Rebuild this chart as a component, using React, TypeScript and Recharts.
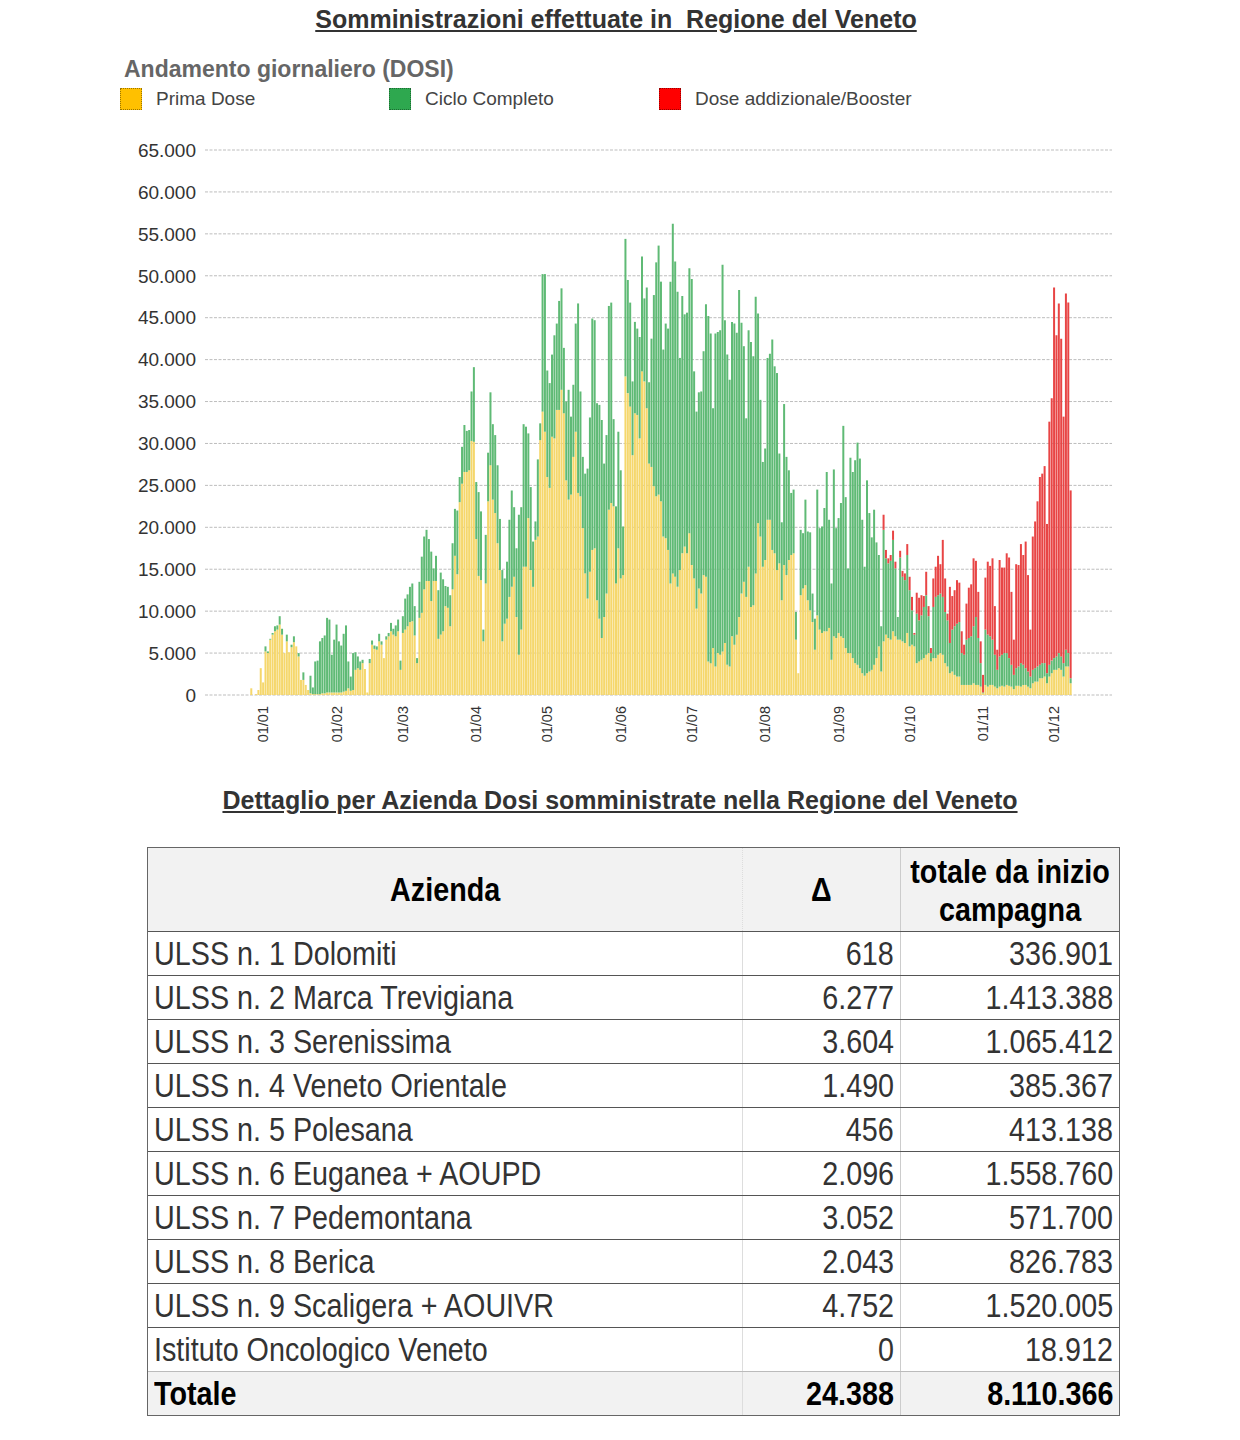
import React from "react";
import { BarChart, Bar, XAxis, YAxis, CartesianGrid } from "recharts";

// dosi giornaliere (dal 27/12/2020 all'08/12/2021)
const primaDic20 = [800, 0, 100, 600, 3200];
const cicloDic20 = [0, 0, 0, 0, 0];

const primaGen = [1500, 5200, 5000, 6600, 7200, 7600, 7800, 8400, 7200, 5000, 6400, 5100, 5700, 6300, 5800, 4600, 1800, 1800, 1200, 600, 200, 100, 100, 100, 100, 200, 200, 300, 300, 300, 300];
const cicloGen = [0, 600, 200, 100, 200, 600, 500, 1000, 700, 0, 800, 0, 300, 700, 0, 400, 0, 900, 0, 0, 2100, 800, 3900, 4000, 6300, 6600, 6900, 8900, 8700, 4500, 6300];

const primaFeb = [300, 300, 300, 400, 500, 800, 500, 600, 3000, 3200, 3000, 3800, 3100, 300, 3800, 6000, 5500, 5400, 6400, 6000, 4400, 6600, 7000, 7600, 7200, 7000, 7600, 3000];
const cicloFeb = [8100, 6100, 5600, 6900, 7800, 3200, 1700, 4400, 2100, 1400, 1000, 400, 0, 0, 500, 500, 400, 400, 900, 400, 0, 400, 400, 1000, 700, 1300, 1400, 1100];

const primaMar = [7400, 7800, 8200, 8700, 8800, 7100, 3800, 9200, 9800, 12600, 13600, 13600, 11200, 13600, 13600, 6700, 7200, 7600, 10600, 10400, 8200, 12600, 16600, 14400, 23000, 25200, 26600, 26600, 26800, 30300, 30200];
const cicloMar = [2000, 3700, 3800, 4200, 4500, 3500, 600, 4300, 6700, 6300, 6100, 5000, 5900, 1500, 3000, 5800, 7400, 6200, 2400, 2500, 3700, 5500, 5600, 7600, 3000, 4400, 5600, 4900, 4800, 5900, 8900];

const primaApr = [18600, 14200, 13700, 6400, 13300, 23100, 27400, 23300, 21700, 18100, 14900, 6400, 8500, 9100, 11700, 12900, 14100, 9300, 4800, 7800, 15300, 15300, 21100, 14900, 12900, 18500, 18900, 30400, 33800, 31400];
const cicloApr = [6800, 10000, 8200, 1400, 5800, 5800, 8700, 9000, 9300, 9300, 6100, 8500, 5400, 6800, 9200, 11500, 8300, 8200, 16700, 14600, 17000, 16700, 10100, 9900, 5400, 2200, 9200, 2000, 16400, 18800];

const primaMag = [26000, 24700, 30800, 30600, 34000, 34000, 36400, 33600, 25600, 23300, 23900, 28400, 31400, 24100, 23700, 19900, 14500, 11500, 14700, 17300, 17500, 11300, 9100, 6800, 9300, 12100, 22100, 22900, 22500, 13300, 17500];
const cicloMag = [12700, 12500, 9800, 12300, 10300, 13000, 12100, 7800, 9400, 13100, 9300, 8600, 12900, 22600, 12500, 8500, 11900, 15500, 18400, 27600, 27200, 23500, 25500, 26000, 18300, 18900, 24300, 23900, 10400, 9200, 13900];

const primaGiu = [13900, 14300, 38000, 36000, 34400, 28600, 33600, 33400, 30600, 38600, 37400, 34200, 27600, 27200, 24900, 23700, 23900, 23100, 18900, 18700, 17300, 13300, 14500, 14100, 12900, 14900, 16900, 17700, 16900, 19300];
const cicloGiu = [12900, 5800, 16400, 13500, 12400, 8800, 10900, 10300, 12100, 13700, 9900, 14400, 9700, 15300, 22800, 27900, 29700, 26200, 22300, 25600, 26400, 36000, 41700, 37600, 35200, 25300, 30700, 27700, 28700, 31600];

const primaLug = [15500, 13900, 10300, 12700, 12100, 14300, 14100, 4000, 3800, 5600, 3400, 5000, 4800, 5200, 6200, 3600, 3400, 7000, 6000, 7200, 9300, 12100, 13500, 11700, 15300, 10500, 10700, 14500, 20500, 18900, 15300];
const cicloLug = [34100, 24700, 23500, 23400, 24100, 26700, 32500, 41200, 39300, 28600, 39700, 38300, 38700, 46100, 38500, 37000, 34200, 37500, 38300, 36000, 39000, 32300, 28100, 21300, 28200, 31600, 29700, 33000, 25000, 16300, 12500];

const primaAgo = [16100, 20900, 20900, 17300, 16900, 14900, 15700, 11300, 15500, 14300, 16100, 16700, 16900, 6600, 2600, 11900, 12700, 13100, 11300, 10100, 8700, 5400, 9500, 7800, 7400, 7600, 7600, 8000, 4200, 7000, 6800];
const cicloAgo = [13300, 19300, 19800, 25100, 22300, 23500, 13100, 9300, 19200, 14100, 10700, 7400, 7600, 3300, 0, 7800, 6600, 10200, 8200, 9300, 3400, 3700, 15000, 12100, 12700, 14700, 19000, 12900, 9100, 19900, 13100];

const primaSet = [7400, 7000, 6800, 5600, 5000, 5000, 4400, 3800, 3600, 3200, 2600, 2300, 2600, 2800, 3000, 3600, 4400, 5800, 2800, 6400, 7200, 6800, 6600, 7600, 7000, 6600, 6600, 6400, 6200, 7400];
const cicloSet = [13700, 15900, 25300, 18000, 10100, 23300, 22200, 24200, 26500, 25000, 18300, 13000, 23000, 18900, 15800, 18500, 13800, 10900, 5400, 13300, 9100, 8900, 9400, 10900, 8100, 2700, 9800, 7700, 7500, 9300];

const primaOtt = [5800, 6000, 5800, 3800, 4000, 4200, 4400, 4800, 5000, 4000, 4400, 4400, 4800, 5000, 4800, 3800, 3400, 2600, 2800, 2400, 2200, 2200, 1200, 1200, 1200, 1200, 1200, 1400, 1200, 1200, 1000];
const cicloOtt = [6700, 4100, 1400, 5900, 4900, 5300, 6100, 7100, 4400, 1000, 6100, 7300, 7100, 7100, 6900, 6100, 5500, 3600, 5000, 5800, 6300, 6500, 3800, 3600, 5400, 5600, 5800, 6800, 8100, 5600, 2800];

const primaNov = [200, 1200, 1000, 1200, 1200, 1000, 800, 1000, 1100, 1000, 1200, 1100, 1000, 700, 1100, 1100, 1000, 1200, 1200, 1000, 800, 1400, 1600, 1600, 2000, 2000, 2200, 1400, 2200, 2600];
const cicloNov = [100, 6600, 6200, 5800, 5400, 3800, 2200, 3600, 3700, 4000, 3800, 3300, 2600, 1700, 2100, 2300, 2800, 2400, 2000, 1800, 1400, 1600, 1600, 1800, 1600, 1800, 1600, 1200, 1400, 1500];

const primaDic = [3000, 3000, 3200, 3000, 2200, 3400, 3400, 1400];
const cicloDic = [1400, 1600, 1800, 1600, 1600, 2000, 1600, 600];

// dose addizionale / booster, dal 20/09/2021
const boosterSet = [1800, 1000, 600, 700, 1100, 800, 0, 800, 700, 800, 1300];
const boosterOtt = [1600, 1600, 200, 2500, 2700, 2400, 1300, 2800, 1200, 600, 3400, 3600, 4700, 3500, 6800, 4000, 800, 6700, 4000, 4300, 5200, 4700, 2600, 1200, 4300, 6000, 6200, 8100, 6700, 5500, 2600];
const boosterNov = [2100, 6200, 8700, 8400, 9700, 5800, 2400, 11500, 10400, 10200, 11900, 12000, 8700, 4200, 12400, 12100, 14200, 13100, 15100, 11500, 5600, 15900, 17500, 19700, 22400, 22600, 23500, 17800, 29000, 31300];
const boosterDic = [44200, 38300, 41700, 37900, 29400, 42500, 41800, 22400];

const yTicks = [0, 5000, 10000, 15000, 20000, 25000, 30000, 35000, 40000, 45000, 50000, 55000, 60000, 65000];

const aziende = [
    "ULSS n. 1 Dolomiti",
    "ULSS n. 2 Marca Trevigiana",
    "ULSS n. 3 Serenissima",
    "ULSS n. 4 Veneto Orientale",
    "ULSS n. 5 Polesana",
    "ULSS n. 6 Euganea + AOUPD",
    "ULSS n. 7 Pedemontana",
    "ULSS n. 8 Berica",
    "ULSS n. 9 Scaligera + AOUIVR",
    "Istituto Oncologico Veneto",
];
const delta = ["618", "6.277", "3.604", "1.490", "456", "2.096", "3.052", "2.043", "4.752", "0"];
const totale = ["336.901", "1.413.388", "1.065.412", "385.367", "413.138", "1.558.760", "571.700", "826.783", "1.520.005", "18.912"];
const totDelta = "24.388";
const totTotale = "8.110.366";

const prima = [...primaDic20, ...primaGen, ...primaFeb, ...primaMar, ...primaApr, ...primaMag, ...primaGiu, ...primaLug, ...primaAgo, ...primaSet, ...primaOtt, ...primaNov, ...primaDic];
const ciclo = [...cicloDic20, ...cicloGen, ...cicloFeb, ...cicloMar, ...cicloApr, ...cicloMag, ...cicloGiu, ...cicloLug, ...cicloAgo, ...cicloSet, ...cicloOtt, ...cicloNov, ...cicloDic];
const booster = [...boosterSet, ...boosterOtt, ...boosterNov, ...boosterDic];

const DAY = 86400000;
const AXIS_START = Date.UTC(2020, 11, 8);
const AXIS_DAYS = 383;
const DATA_START = Date.UTC(2020, 11, 27);
const BOOSTER_START = Date.UTC(2021, 8, 20);

const pad = (n: number) => (n < 10 ? "0" + n : "" + n);

const rows = Array.from({ length: AXIS_DAYS }, (_, i) => {
    const t = AXIS_START + i * DAY;
    const d = new Date(t);
    const k = Math.round((t - DATA_START) / DAY);
    const b = Math.round((t - BOOSTER_START) / DAY);
    return {
        date: `${d.getUTCFullYear()}-${pad(d.getUTCMonth() + 1)}-${pad(d.getUTCDate())}`,
        prima: k >= 0 && k < prima.length ? prima[k] : undefined,
        ciclo: k >= 0 && k < ciclo.length ? ciclo[k] : undefined,
        booster: b >= 0 && b < booster.length ? booster[b] : undefined,
    };
});

const fmt = (v: number) => String(v).replace(/\B(?=(\d{3})+(?!\d))/g, ".");

const SANS = '"Liberation Sans", Arial, Helvetica, sans-serif';

const MonthTick = (props: any) => {
    const { x, y, payload } = props;
    const v: string = payload.value;
    if (!v.endsWith("-01")) return <g />;
    const [, m, d] = v.split("-");
    return (
        <text
            x={0}
            y={0}
            transform={`translate(${x},${y + 3}) rotate(-90)`}
            textAnchor="end"
            dy="0.35em"
            fontSize={14.5}
            fill="#333"
            fontFamily={SANS}
        >
            {`${d}/${m}`}
        </text>
    );
};

const LegendItem = ({ left, color, border, label }: any) => (
    <>
        <div style={{ position: "absolute", left, top: 88, width: 22, height: 22, background: color, border: `1px dotted ${border}`, boxSizing: "border-box" }} />
        <div style={{ position: "absolute", left: left + 36, top: 88, fontSize: 19, lineHeight: "22px", color: "#444", fontFamily: SANS }}>{label}</div>
    </>
);

// testo "condensato": nessun font narrow installato, quindi si stringe in orizzontale
const Narrow = ({ children, origin }: any) => (
    <span style={{ display: "inline-block", transform: "scaleX(0.845)", transformOrigin: origin, whiteSpace: "nowrap" }}>{children}</span>
);

const cellBase: React.CSSProperties = {
    boxSizing: "border-box",
    height: "100%",
    padding: "0 6px",
    whiteSpace: "nowrap",
    overflow: "visible",
};

export default function App() {
    return (
        <div style={{ position: "relative", width: 1240, height: 1440, background: "#fff", fontFamily: SANS }}>
            <style>{"body{margin:0}"}</style>

            <div style={{ position: "absolute", left: 0, top: 4, width: 1232, textAlign: "center", fontSize: 25, lineHeight: "30px", fontWeight: "bold", color: "#333", textDecoration: "underline", whiteSpace: "pre" }}>
                {"Somministrazioni effettuate in  Regione del Veneto"}
            </div>
            <div style={{ position: "absolute", left: 124, top: 57, fontSize: 23, lineHeight: "24px", fontWeight: "bold", color: "#666" }}>
                Andamento giornaliero (DOSI)
            </div>
            <LegendItem left={120} color="#FFC000" border="#9a7400" label="Prima Dose" />
            <LegendItem left={389} color="#2EA84F" border="#1d6b33" label="Ciclo Completo" />
            <LegendItem left={659} color="#FF0000" border="#990000" label="Dose addizionale/Booster" />

            <div style={{ position: "absolute", left: 0, top: 0 }}>
                <BarChart
                    width={1240}
                    height={760}
                    data={rows}
                    margin={{ top: 150, right: 128, left: 145, bottom: 15 }}
                    barCategoryGap="12%"
                >
                    <CartesianGrid vertical={false} stroke="#bdbdbd" strokeDasharray="3 1.5" />
                    <XAxis
                        dataKey="date"
                        interval={0}
                        tick={MonthTick}
                        tickLine={false}
                        axisLine={false}
                        height={50}
                    />
                    <YAxis
                        domain={[0, 65000]}
                        ticks={yTicks}
                        interval={0}
                        tickFormatter={fmt}
                        tickLine={false}
                        axisLine={false}
                        tickSize={0}
                        tickMargin={9}
                        width={60}
                        tick={{ fontSize: 19, fill: "#333", fontFamily: SANS }}
                    />
                    <Bar dataKey="prima" stackId="a" fill="#f5d76c" isAnimationActive={false} />
                    <Bar dataKey="ciclo" stackId="a" fill="#5fba75" isAnimationActive={false} />
                    <Bar dataKey="booster" stackId="a" fill="#e84545" isAnimationActive={false} />
                </BarChart>
            </div>

            <div style={{ position: "absolute", left: 0, top: 786, width: 1240, textAlign: "center", fontSize: 25, lineHeight: "28px", fontWeight: "bold", color: "#333", textDecoration: "underline" }}>
                Dettaglio per Azienda Dosi somministrate nella Regione del Veneto
            </div>

            <div style={{ position: "absolute", left: 147, top: 847, width: 973, border: "1px solid #666", boxSizing: "border-box", color: "#333" }}>
                <div style={{ display: "flex", height: 84, background: "#f2f2f2", borderBottom: "1px solid #555", boxSizing: "border-box", fontWeight: "bold", color: "#000", fontSize: 34 }}>
                    <div style={{ ...cellBase, width: 595, display: "flex", alignItems: "center", justifyContent: "center", borderRight: "1px dotted #ddd" }}>
                        <Narrow origin="center">Azienda</Narrow>
                    </div>
                    <div style={{ ...cellBase, width: 158, display: "flex", alignItems: "center", justifyContent: "center", borderRight: "1px solid #ccc" }}>
                        <Narrow origin="center">Δ</Narrow>
                    </div>
                    <div style={{ ...cellBase, width: 218, display: "flex", flexDirection: "column", alignItems: "center", justifyContent: "center", lineHeight: "38px", padding: 0 }}>
                        <Narrow origin="center">totale da inizio</Narrow>
                        <Narrow origin="center">campagna</Narrow>
                    </div>
                </div>
                {aziende.map((name, i) => (
                    <div key={name} style={{ display: "flex", height: 44, borderBottom: i === aziende.length - 1 ? "1px solid #bbb" : "1px solid #555", boxSizing: "border-box", fontSize: 34, lineHeight: "42px" }}>
                        <div style={{ ...cellBase, width: 595, borderRight: "1px solid #ddd" }}>
                            <Narrow origin="left">{name}</Narrow>
                        </div>
                        <div style={{ ...cellBase, width: 158, textAlign: "right", borderRight: "1px solid #ccc" }}>
                            <Narrow origin="right">{delta[i]}</Narrow>
                        </div>
                        <div style={{ ...cellBase, width: 218, textAlign: "right" }}>
                            <Narrow origin="right">{totale[i]}</Narrow>
                        </div>
                    </div>
                ))}
                <div style={{ display: "flex", height: 43, background: "#f2f2f2", boxSizing: "border-box", fontSize: 34, lineHeight: "42px", fontWeight: "bold", color: "#000" }}>
                    <div style={{ ...cellBase, width: 595, borderRight: "1px solid #ddd" }}>
                        <Narrow origin="left">Totale</Narrow>
                    </div>
                    <div style={{ ...cellBase, width: 158, textAlign: "right", borderRight: "1px solid #ccc" }}>
                        <Narrow origin="right">{totDelta}</Narrow>
                    </div>
                    <div style={{ ...cellBase, width: 218, textAlign: "right" }}>
                        <Narrow origin="right">{totTotale}</Narrow>
                    </div>
                </div>
            </div>
        </div>
    );
}
